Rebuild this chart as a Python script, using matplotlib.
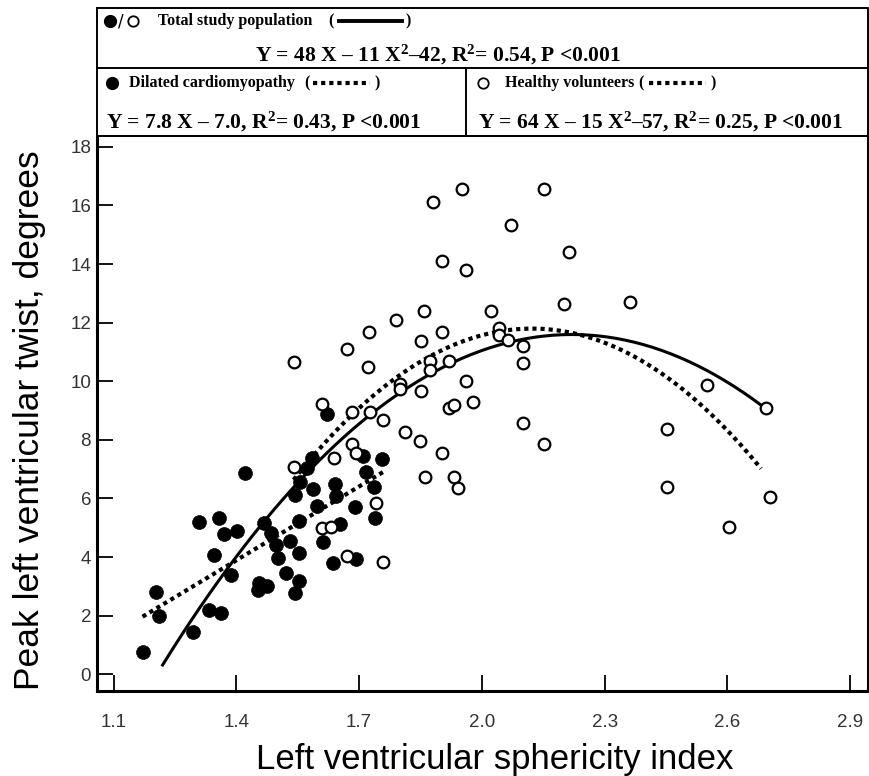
import numpy as np
import matplotlib.pyplot as plt
from matplotlib.lines import Line2D

plt.rcParams["mathtext.fontset"] = "custom"
plt.rcParams["mathtext.rm"] = "Liberation Serif:bold"
plt.rcParams["mathtext.it"] = "Liberation Serif:bold"
plt.rcParams["mathtext.bf"] = "Liberation Serif:bold"

# dilated cardiomyopathy (filled circles)
dcm_si = [1.171, 1.204, 1.212, 1.295, 1.310, 1.333, 1.346, 1.358, 1.363, 1.370,
          1.386, 1.401, 1.421, 1.452, 1.455, 1.468, 1.474, 1.485, 1.496, 1.503,
          1.521, 1.531, 1.543, 1.543, 1.552, 1.552, 1.552, 1.556, 1.572, 1.584,
          1.587, 1.596, 1.613, 1.621, 1.636, 1.641, 1.644, 1.653, 1.690, 1.692,
          1.710, 1.718, 1.736, 1.739, 1.755]
dcm_twist = [0.75, 2.80, 1.99, 1.45, 5.21, 2.19, 4.07, 5.32, 2.08, 4.78,
             3.39, 4.90, 6.86, 2.87, 3.11, 5.15, 3.01, 4.81, 4.41, 3.96,
             3.45, 4.55, 2.76, 6.12, 3.19, 4.15, 5.23, 6.57, 7.03, 7.39,
             6.31, 5.75, 4.53, 8.88, 3.79, 6.50, 6.09, 5.13, 5.70, 3.93,
             7.45, 6.92, 6.40, 5.32, 7.35]

# healthy volunteers (open circles)
hv_si = [1.542, 1.542, 1.609, 1.609, 1.631, 1.639, 1.670, 1.670, 1.682, 1.682,
         1.692, 1.721, 1.723, 1.727, 1.741, 1.759, 1.759, 1.790, 1.800, 1.800,
         1.812, 1.849, 1.850, 1.850, 1.859, 1.861, 1.872, 1.872, 1.880, 1.902,
         1.902, 1.902, 1.920, 1.920, 1.933, 1.933, 1.941, 1.951, 1.961, 1.961,
         1.979, 2.022, 2.042, 2.042, 2.063, 2.070, 2.101, 2.101, 2.101, 2.152,
         2.152, 2.201, 2.214, 2.362, 2.453, 2.453, 2.549, 2.604, 2.693, 2.704]
hv_twist = [10.67, 7.06, 9.22, 4.98, 5.02, 7.37, 11.09, 4.04, 8.96, 7.86,
            7.54, 10.50, 11.69, 8.96, 5.84, 8.68, 3.82, 12.09, 9.90, 9.73,
            8.28, 7.96, 11.39, 9.68, 12.40, 6.74, 10.70, 10.39, 16.11, 14.12,
            11.69, 7.54, 10.70, 9.10, 9.19, 6.74, 6.37, 16.55, 13.80, 10.00,
            9.28, 12.40, 11.81, 11.58, 11.41, 15.33, 11.21, 10.61, 8.59, 16.55,
            7.86, 12.63, 14.42, 12.70, 8.36, 6.38, 9.87, 5.04, 9.10, 6.06]

# regression curves as drawn (polynomial coefficients, highest power first)
total_coef = [-11.28, 50.08, -43.99]
total_span = [1.22, 2.69]
dcm_coef = [8.4, -7.87]
dcm_span = [1.171, 1.766]
hv_coef = [-15.24, 64.68, -56.83]
hv_span = [1.54, 2.682]

x_ticks = [1.1, 1.4, 1.7, 2.0, 2.3, 2.6, 2.9]
y_ticks = [0, 2, 4, 6, 8, 10, 12, 14, 16, 18]

W, H = 870, 776
fig = plt.figure(figsize=(W / 100, H / 100), dpi=100)
ax = fig.add_axes([97.3 / W, 1 - 690.7 / H, 771 / W, 554.7 / H])

dots = (0, (1, 0.95))
for coef, span, ls, lw in [(total_coef, total_span, "-", 2.2),
                           (dcm_coef, dcm_span, dots, 3.0),
                           (hv_coef, hv_span, dots, 3.0)]:
    xs = np.linspace(span[0], span[1], 200)
    ax.plot(xs, np.polyval(coef, xs), color="black", ls=ls, lw=lw, zorder=2)

ax.plot(dcm_si, dcm_twist, "o", ms=10, mfc="black", mec="black", mew=0.5, zorder=3)
ax.plot(hv_si, hv_twist, "o", ms=8.4, mfc="white", mec="black", mew=1.6, zorder=4)

ax.set_xlim(1.0604, 2.944)
ax.set_ylim(-0.56, 18.37)
ax.set_xticks(x_ticks)
ax.set_xticklabels([f"{t:.1f}" for t in x_ticks])
ax.set_yticks(y_ticks)
ax.tick_params(direction="in", length=11.8, width=1.3, labelsize=13.5,
               labelfontfamily="Liberation Sans", color="black",
               labelcolor="#333333")
ax.tick_params(axis="x", pad=17)
ax.tick_params(axis="y", pad=4.5)
for side in ["left", "bottom", "right"]:
    ax.spines[side].set_linewidth(2.2)
ax.spines["top"].set_linewidth(1.4)

ax.set_xlabel("Left ventricular sphericity index", fontsize=25,
              family="Liberation Sans")
ax.set_ylabel("Peak left ventricular twist, degrees", fontsize=25.5,
              family="Liberation Sans")
ax.xaxis.set_label_coords(0.516, -0.094)
ax.yaxis.set_label_coords(-0.066, 0.488)

# header box, drawn in pixel coordinates on an overlay
hdr = fig.add_axes([0, 0, 1, 1], zorder=5)
hdr.set_xlim(0, W)
hdr.set_ylim(H, 0)
hdr.axis("off")
hdr.patch.set_alpha(0)

box_l, box_r, box_t, box_m, box_b, box_v = 97.3, 868.3, 8, 68, 136, 466.5
hdr.plot([box_l, box_r, box_r, box_l, box_l], [box_t, box_t, box_b, box_b, box_t],
         color="black", lw=1.4)
hdr.plot([box_l, box_r], [box_m, box_m], color="black", lw=1.4)
hdr.plot([box_v, box_v], [box_m, box_b], color="black", lw=1.4)

lab = dict(family="Liberation Serif", weight="bold", fontsize=11.5, va="baseline")
eq = dict(family="Liberation Serif", weight="bold", fontsize=15.5, va="baseline")

# row 1
hdr.plot([110], [21], "o", ms=8.5, mfc="black", mec="black")
hdr.text(121, 21, "/", family="DejaVu Sans", fontsize=12, ha="center", va="center")
hdr.plot([133], [21], "o", ms=7.5, mfc="white", mec="black", mew=1.3)
hdr.text(158, 25, "Total study population", **lab)
hdr.text(328, 25, "(", **lab)
hdr.add_line(Line2D([339, 402], [20.5, 20.5], color="black", lw=2.8))
hdr.text(406, 25, ")", **lab)
hdr.text(255, 61, "Y = 48 X – 11 X$^2$–42, R$^2$= 0.54, P <0.001", **eq)

# row 2, left
hdr.plot([112], [83], "o", ms=8.5, mfc="black", mec="black")
hdr.text(129, 87, "Dilated cardiomyopathy", **lab)
hdr.text(304, 87, "(", **lab)
hdr.add_line(Line2D([313, 370], [82.5, 82.5], color="black", lw=3.0, ls=dots))
hdr.text(375, 87, ")", **lab)
hdr.text(106, 128, "Y = 7.8 X – 7.0, R$^2$= 0.43, P <0.001", **eq)

# row 2, right
hdr.plot([483], [83], "o", ms=7.5, mfc="white", mec="black", mew=1.3)
hdr.text(505, 87, "Healthy volunteers", **lab)
hdr.text(638, 87, "(", **lab)
hdr.add_line(Line2D([649, 706], [82.5, 82.5], color="black", lw=3.0, ls=dots))
hdr.text(711, 87, ")", **lab)
hdr.text(478, 128, "Y = 64 X – 15 X$^2$–57, R$^2$= 0.25, P <0.001", **eq)

fig.savefig("out.png", dpi=100)
